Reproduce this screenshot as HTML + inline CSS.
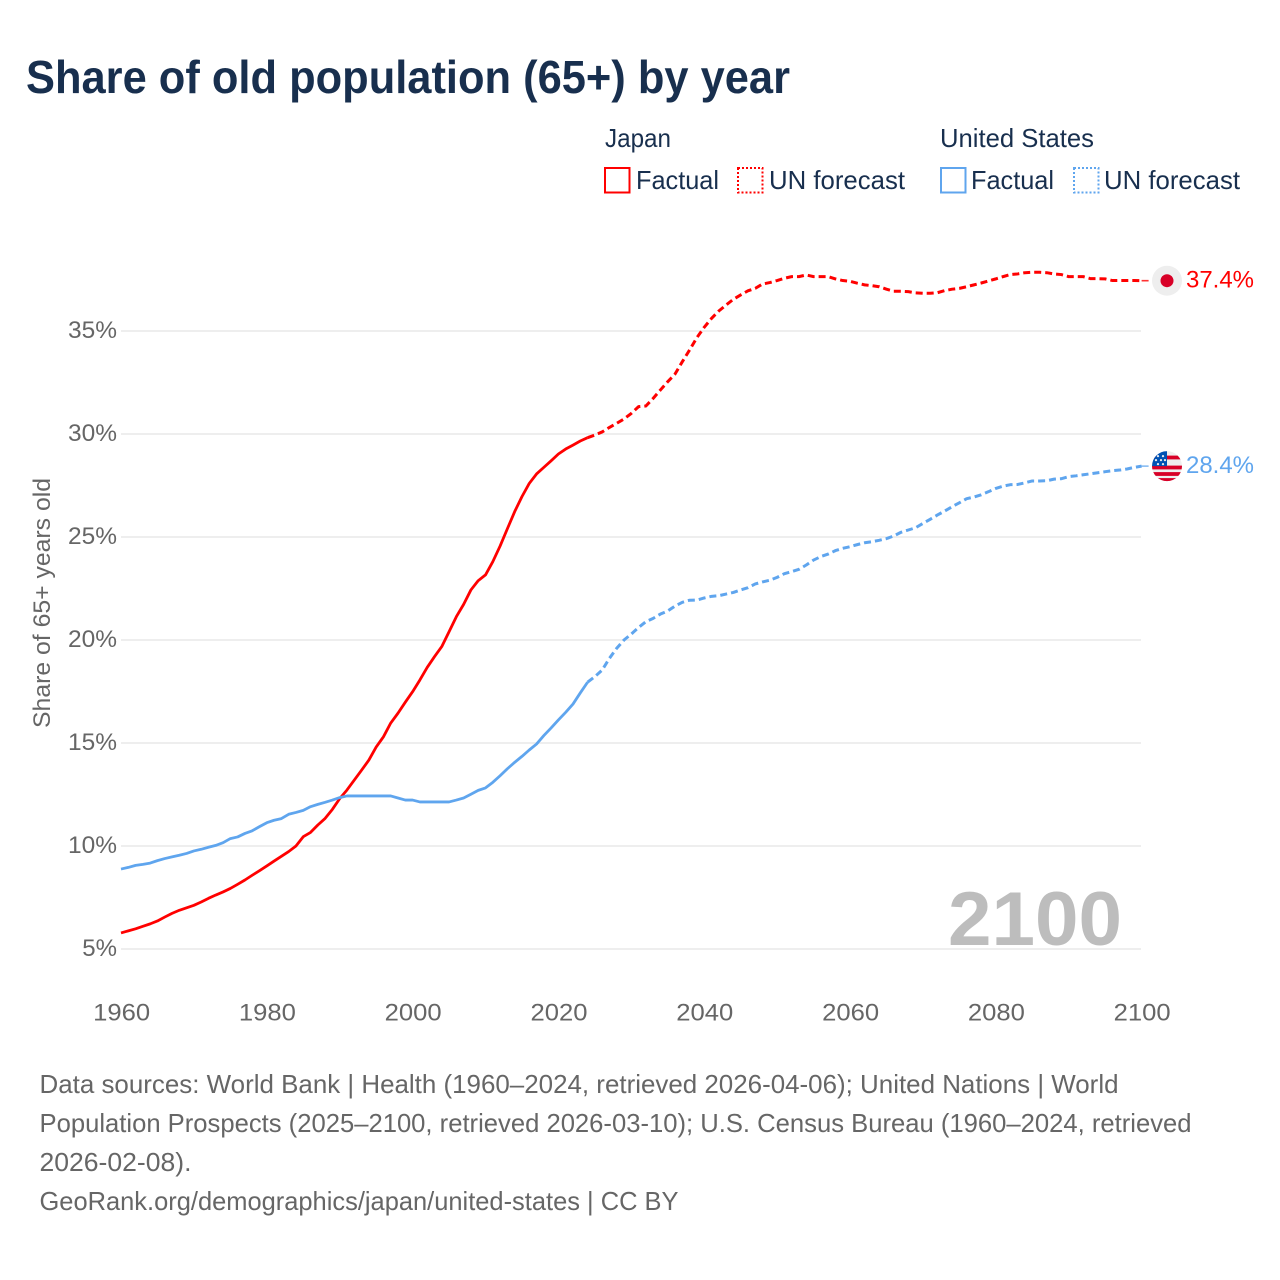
<!DOCTYPE html>
<html lang="en">
<head>
<meta charset="utf-8">
<title>Share of old population (65+) by year</title>
<style>
html,body{margin:0;padding:0;background:#fff;}
svg{display:block;font-family:"Liberation Sans",sans-serif;}
</style>
</head>
<body>
<svg id="chart" xmlns="http://www.w3.org/2000/svg" width="1280" height="1280" viewBox="0 0 1280 1280">
  <defs>
    <clipPath id="flag-clip"><circle cx="0" cy="0" r="15"></circle></clipPath>
  </defs>
  <text x="26" y="93" font-size="46" font-weight="700" fill="#182f4e" textLength="764" lengthAdjust="spacingAndGlyphs">Share of old population (65+) by year</text>

  <g font-size="26" fill="#182f4e">
    <text x="605" y="147" textLength="66" lengthAdjust="spacingAndGlyphs">Japan</text>
    <text x="940" y="147" textLength="154" lengthAdjust="spacingAndGlyphs">United States</text>
    <g>
      <rect x="605" y="168" width="24.5" height="24.5" fill="none" stroke="#ff0000" stroke-width="2"></rect>
      <text x="636" y="189" textLength="83" lengthAdjust="spacingAndGlyphs">Factual</text>
    </g>
    <g>
      <rect x="738" y="168" width="24.5" height="24.5" fill="none" stroke="#ff0000" stroke-width="2" stroke-dasharray="2 2"></rect>
      <text x="769" y="189" textLength="136" lengthAdjust="spacingAndGlyphs">UN forecast</text>
    </g>
    <g>
      <rect x="941" y="168" width="24.5" height="24.5" fill="none" stroke="#5fa5ee" stroke-width="2"></rect>
      <text x="971" y="189" textLength="83" lengthAdjust="spacingAndGlyphs">Factual</text>
    </g>
    <g>
      <rect x="1074" y="168" width="24.5" height="24.5" fill="none" stroke="#5fa5ee" stroke-width="2" stroke-dasharray="2 2"></rect>
      <text x="1104" y="189" textLength="136" lengthAdjust="spacingAndGlyphs">UN forecast</text>
    </g>
  </g>

  <g id="grid"></g>
  <g id="y-ticks" font-size="24.5" fill="#666666"></g>
  <g id="x-ticks" font-size="24.5" fill="#666666"></g>
  <text transform="translate(50,603) rotate(-90)" text-anchor="middle" font-size="24.5" fill="#666666" textLength="250" lengthAdjust="spacingAndGlyphs">Share of 65+ years old</text>

  <text x="948" y="945" font-size="76" font-weight="700" fill="#bdbdbd" textLength="174" lengthAdjust="spacingAndGlyphs">2100</text>

  <g id="series"></g>
  <g id="markers"></g>

  <g font-size="26" fill="#666666">
    <text x="39.5" y="1093" textLength="1079" lengthAdjust="spacingAndGlyphs">Data sources: World Bank | Health (1960–2024, retrieved 2026-04-06); United Nations | World</text>
    <text x="39.5" y="1132" textLength="1152" lengthAdjust="spacingAndGlyphs">Population Prospects (2025–2100, retrieved 2026-03-10); U.S. Census Bureau (1960–2024, retrieved</text>
    <text x="39.5" y="1171" textLength="152" lengthAdjust="spacingAndGlyphs">2026-02-08).</text>
    <text x="39.5" y="1210" textLength="639" lengthAdjust="spacingAndGlyphs">GeoRank.org/demographics/japan/united-states | CC BY</text>
  </g>
</svg>

<script>
const xTickYears = [1960, 1980, 2000, 2020, 2040, 2060, 2080, 2100];
const yTickValues = [5, 10, 15, 20, 25, 30, 35];
const factualStartYear = 1960;
const forecastStartYear = 2024;

const japanFactual = [
  5.78,5.88,5.98,6.10,6.22,6.36,6.55,6.73,6.88,7.00,
  7.12,7.28,7.46,7.62,7.77,7.94,8.14,8.35,8.58,8.80,
  9.03,9.27,9.50,9.73,10.00,10.45,10.66,11.02,11.34,11.78,
  12.30,12.72,13.20,13.68,14.17,14.80,15.30,15.97,16.45,16.98,
  17.49,18.06,18.67,19.19,19.68,20.40,21.13,21.73,22.43,22.88,
  23.16,23.80,24.56,25.40,26.23,26.96,27.60,28.06,28.38,28.70,
  29.03,29.27,29.46,29.66,29.82
];
const japanForecast = [
  29.82,29.95,30.10,30.32,30.52,30.73,31.00,31.33,31.36,31.73,
  32.14,32.54,32.91,33.51,34.08,34.68,35.18,35.61,35.97,36.26,
  36.54,36.75,36.95,37.07,37.28,37.35,37.45,37.56,37.64,37.64,
  37.72,37.64,37.64,37.64,37.53,37.45,37.41,37.32,37.24,37.20,
  37.15,37.03,36.93,36.93,36.91,36.85,36.83,36.83,36.86,36.96,
  37.03,37.07,37.15,37.24,37.33,37.43,37.53,37.64,37.74,37.77,
  37.83,37.85,37.85,37.83,37.77,37.74,37.64,37.64,37.64,37.54,
  37.54,37.53,37.45,37.45,37.45,37.45,37.44
];
const usFactual = [
  8.88,8.96,9.06,9.11,9.17,9.29,9.39,9.47,9.55,9.64,
  9.76,9.84,9.94,10.03,10.16,10.36,10.44,10.61,10.74,10.94,
  11.13,11.25,11.33,11.54,11.63,11.73,11.91,12.02,12.12,12.23,
  12.35,12.43,12.43,12.43,12.43,12.43,12.43,12.43,12.33,12.23,
  12.23,12.14,12.14,12.14,12.14,12.14,12.23,12.33,12.51,12.70,
  12.82,13.09,13.41,13.75,14.06,14.35,14.66,14.95,15.36,15.73,
  16.12,16.49,16.89,17.43,17.95
];
const usForecast = [
  17.95,18.22,18.54,19.11,19.60,20.00,20.29,20.61,20.89,21.05,
  21.26,21.41,21.65,21.83,21.93,21.94,22.04,22.12,22.15,22.23,
  22.31,22.43,22.54,22.72,22.82,22.90,23.04,23.22,23.32,23.43,
  23.64,23.88,24.05,24.17,24.34,24.45,24.53,24.63,24.72,24.77,
  24.84,24.92,25.05,25.23,25.34,25.45,25.66,25.86,26.07,26.26,
  26.47,26.66,26.86,26.94,27.05,27.20,27.36,27.47,27.54,27.55,
  27.63,27.72,27.72,27.73,27.81,27.83,27.93,27.97,28.02,28.07,
  28.12,28.17,28.22,28.25,28.30,28.38,28.44
];

const SVG_NS = 'http://www.w3.org/2000/svg';
const xScale = function (year) { return 121 + (year - 1960) * (1141.6 - 121) / 140; };
const yScale = function (pct) { return 949 - (pct - 5) * 20.6; };

function make(tag, attrs, parent) {
  const el = document.createElementNS(SVG_NS, tag);
  Object.keys(attrs).forEach(function (k) { el.setAttribute(k, attrs[k]); });
  parent.appendChild(el);
  return el;
}

const gridGroup = document.getElementById('grid');
const yTickGroup = document.getElementById('y-ticks');
const xTickGroup = document.getElementById('x-ticks');
const seriesGroup = document.getElementById('series');
const markerGroup = document.getElementById('markers');

yTickValues.forEach(function (v) {
  const line = make('line', { x1: 121, x2: 1141, y1: yScale(v), y2: yScale(v), stroke: '#eeeeee', 'stroke-width': 2 }, gridGroup);
  
  
  const label = v + '%';
  const t = make('text', { x: 117, y: yScale(v) + 7, 'text-anchor': 'end', textLength: (label.length - 1) * 14.25 + 20.5, lengthAdjust: 'spacingAndGlyphs' }, yTickGroup);
  t.textContent = label;
  
  
});

xTickYears.forEach(function (yr) {
  const t = make('text', { x: xScale(yr) + 0.6, y: 1020.5, 'text-anchor': 'middle', textLength: 57, lengthAdjust: 'spacingAndGlyphs' }, xTickGroup);
  t.textContent = String(yr);
  
  
});

function linePath(values, startYear) {
  return values.map(function (v, i) {
    return (i ? 'L' : 'M') + xScale(startYear + i).toFixed(2) + ' ' + yScale(v).toFixed(2);
  }).join(' ');
}

function drawSeries(values, startYear, color, dashed, name) {
  const attrs = { d: linePath(values, startYear), fill: 'none', stroke: color, 'stroke-width': dashed ? 3 : 2.8, 'stroke-linejoin': 'round' };
  if (dashed) { attrs['stroke-dasharray'] = '7 4'; }
  const p = make('path', attrs, seriesGroup);
  
  
}

drawSeries(japanFactual, factualStartYear, '#ff0000', false, 'japan-factual-line');
drawSeries(japanForecast, forecastStartYear, '#ff0000', true, 'japan-forecast-line');
drawSeries(usFactual, factualStartYear, '#5fa5ee', false, 'us-factual-line');
drawSeries(usForecast, forecastStartYear, '#5fa5ee', true, 'us-forecast-line');

function drawConnector(value, color, name) {
  const yPos = yScale(value);
  const l = make('line', { x1: xScale(2100), x2: 1153, y1: yPos, y2: yPos, stroke: color, 'stroke-width': 1.6, 'stroke-dasharray': '7 4', 'stroke-opacity': 0.8 }, markerGroup);
  
  
}

function drawValueLabel(value, color, name) {
  const t = make('text', { x: 1186, y: yScale(value) + 7, 'font-size': 24.5, fill: color, textLength: 68, lengthAdjust: 'spacingAndGlyphs' }, markerGroup);
  t.textContent = value.toFixed(1) + '%';
  
  
}

const japanLast = japanForecast[japanForecast.length - 1];
const usLast = usForecast[usForecast.length - 1];

drawConnector(japanLast, '#ff0000', 'japan-end-connector');
drawConnector(usLast, '#5fa5ee', 'us-end-connector');

const japanFlag = make('g', { transform: 'translate(1167,' + yScale(japanLast).toFixed(1) + ')' }, markerGroup);


make('circle', { r: 15, fill: '#eeeeee' }, japanFlag);
make('circle', { r: 6.5, fill: '#d80027' }, japanFlag);

const usFlag = make('g', { transform: 'translate(1167,' + yScale(usLast).toFixed(1) + ')' }, markerGroup);


const usClip = make('g', { 'clip-path': 'url(#flag-clip)' }, usFlag);
make('rect', { x: -15, y: -15, width: 30, height: 30, fill: '#eeeeee' }, usClip);
[-10.5, -0.5, 6, 12].forEach(function (offset) {
  make('rect', { x: -15, y: offset, width: 30, height: 3.8, fill: '#d80027' }, usClip);
});
make('rect', { x: -15, y: -15, width: 15, height: 15, fill: '#0052b4' }, usClip);
[[-9, -10], [-4, -10], [-11, -6], [-6, -6], [-2, -6], [-9, -2], [-4, -2]].forEach(function (s) {
  make('circle', { cx: s[0], cy: s[1], r: 1.1, fill: '#eeeeee' }, usClip);
});

drawValueLabel(japanLast, '#ff0000', 'japan-value-label');
drawValueLabel(usLast, '#5fa5ee', 'us-value-label');
</script>
</body>
</html>
